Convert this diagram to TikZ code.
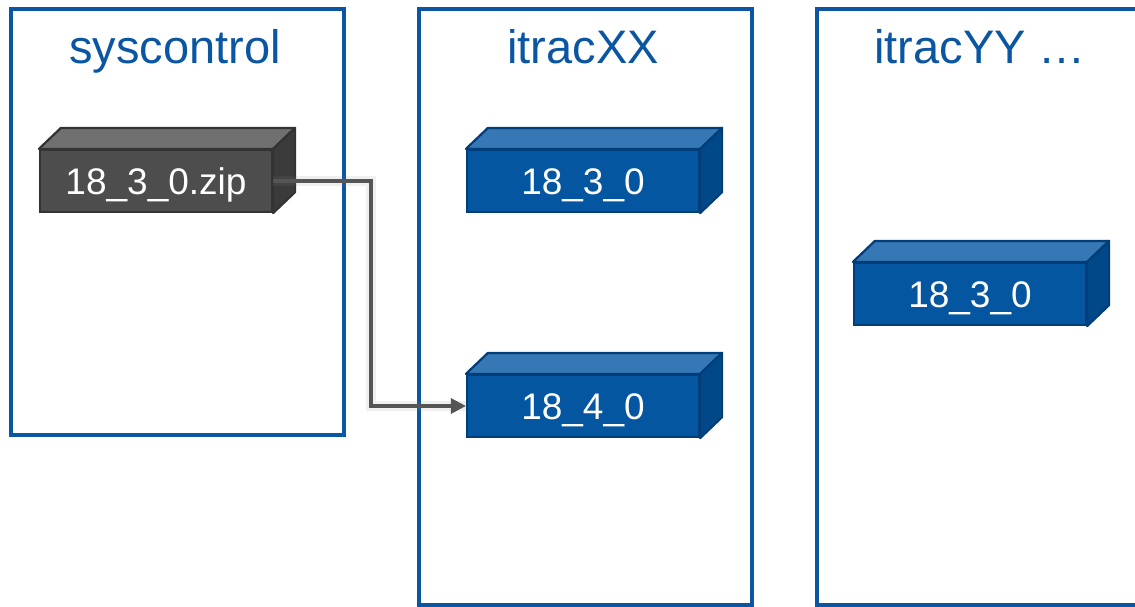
\documentclass[tikz,border=0pt]{standalone}
\usepackage{fontspec}
\setmainfont{Liberation Sans}
\usetikzlibrary{arrows.meta}
\definecolor{frameblue}{HTML}{0A56A2}
\definecolor{bfront}{HTML}{0456A0}
\definecolor{btop}{HTML}{3677B5}
\definecolor{bside}{HTML}{004888}
\definecolor{bedge}{HTML}{003E7A}
\definecolor{gfront}{HTML}{4D4D4D}
\definecolor{gtop}{HTML}{707070}
\definecolor{gside}{HTML}{3B3B3B}
\definecolor{gedge}{HTML}{333333}
\definecolor{conncol}{HTML}{555555}
\tikzset{
  container/.style={draw=frameblue, line width=3.5pt, fill=white, rectangle, anchor=north west, inner sep=0pt},
  title/.style={text=frameblue, font=\fontsize{47}{52}\selectfont, anchor=base},
  front/.style={rectangle, minimum width=232pt, minimum height=62pt, inner sep=0pt, text=white,
    font=\fontsize{37}{42}\selectfont, line width=2.2pt, text height=26.5pt, text depth=0pt},
  bluebox/.style={front, fill=bfront, draw=bedge},
  greybox/.style={front, fill=gfront, draw=gedge},
  conn/.style={draw=conncol, line width=3.2pt, -{Triangle[length=15pt,width=15pt]}},
  glow/.style={draw=gray, line width=10pt, opacity=0.12},
}
\newcommand{\cubefaces}[4]{%
  \filldraw[fill=#2, draw=#4, line width=2.2pt, line join=round]
    (#1.north west) -- ++(22,21) -- ([shift={(22,21)}]#1.north east) -- (#1.north east) -- cycle;
  \filldraw[fill=#3, draw=#4, line width=2.2pt, line join=round]
    (#1.north east) -- ++(22,21) -- ([shift={(22,21)}]#1.south east) -- (#1.south east) -- cycle;
}
\begin{document}
\begin{tikzpicture}[x=1pt,y=1pt]
\useasboundingbox (0,0) rectangle (1135,-606);
\clip (0,0) rectangle (1135,-606);
% containers
\node[container, minimum width=333pt, minimum height=426pt] (c1) at (9,-7) {};
\node[container, minimum width=333pt, minimum height=596pt] (c2) at (417,-7) {};
\node[container, minimum width=340pt, minimum height=596pt] (c3) at (815,-7) {};
\node[title] (t1) at (175,-63) {syscontrol};
\node[title] (t2) at (583,-63) {itracXX};
\node[title] (t3) at (980,-63) {itracYY \dots};
% boxes
\node[greybox] (z) at (156,-181) {18\_3\_0.zip};
\cubefaces{z}{gtop}{gside}{gedge}
\node[bluebox] (b1) at (583,-181) {18\_3\_0};
\cubefaces{b1}{btop}{bside}{bedge}
\node[bluebox] (b2) at (583,-406) {18\_4\_0};
\cubefaces{b2}{btop}{bside}{bedge}
\node[bluebox] (b3) at (970,-294) {18\_3\_0};
\cubefaces{b3}{btop}{bside}{bedge}
% connector
\coordinate (bend) at (371,-181);
\draw[glow] (z.east) -- (bend) |- (b2.west);
\draw[conn] (z.east) -- (bend) |- (b2.west);
\end{tikzpicture}
\end{document}
